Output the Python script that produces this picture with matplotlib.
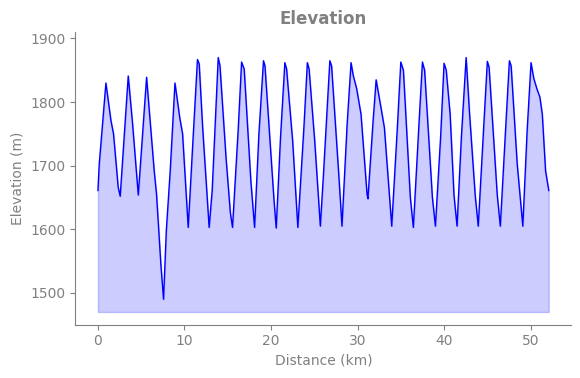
import matplotlib
matplotlib.use('Agg')
import matplotlib.pyplot as plt

# distance (km) and elevation (m)
distance = [0.0, 0.15, 0.92, 1.5, 1.8, 2.34, 2.57, 3.5, 4.0, 4.66, 5.62, 6.5, 6.77,
            7.27, 7.58, 7.9, 8.35, 8.9, 9.47, 9.78, 10.43, 11.0, 11.5, 11.7, 12.1,
            12.85, 13.2, 13.9, 14.1, 14.8, 15.3, 15.55, 16.2, 16.6, 16.9, 17.67,
            18.1, 18.6, 19.13, 19.3, 20.35, 20.6, 21.1, 21.6, 21.8, 22.5, 23.1,
            23.8, 24.2, 24.4, 25.05, 25.7, 26.05, 26.8, 27.0, 27.85, 28.2, 28.8,
            29.25, 29.5, 29.9, 30.4, 31.1, 31.2, 31.8, 32.15, 32.7, 33.1, 33.95,
            34.6, 35.0, 35.3, 36.1, 36.45, 37.1, 37.5, 37.75, 38.65, 39.0, 39.6,
            40.0, 40.25, 40.7, 41.15, 41.5, 42.0, 42.55, 42.95, 43.6, 43.95, 44.6,
            45.0, 45.2, 46.15, 46.5, 47.1, 47.55, 47.75, 48.45, 49.1, 49.6, 50.05,
            50.37, 50.75, 51.07, 51.35, 51.73, 52.1]
elevation = [1661, 1703, 1830, 1771, 1750, 1666, 1652, 1841, 1766, 1654, 1839, 1692, 1655,
             1545, 1490, 1598, 1692, 1830, 1774, 1750, 1603, 1745, 1867, 1860, 1760,
             1603, 1661, 1870, 1857, 1713, 1626, 1603, 1755, 1863, 1852, 1676,
             1603, 1750, 1865, 1857, 1645, 1602, 1745, 1862, 1852, 1739, 1603,
             1760, 1862, 1852, 1739, 1605, 1684, 1865, 1857, 1682, 1605, 1766,
             1862, 1842, 1821, 1781, 1655, 1648, 1771, 1835, 1792, 1760, 1605,
             1760, 1863, 1850, 1650, 1603, 1766, 1863, 1850, 1650, 1605, 1745,
             1861, 1850, 1781, 1653, 1605, 1745, 1870, 1781, 1653, 1605, 1766,
             1864, 1855, 1653, 1605, 1755, 1865, 1857, 1703, 1605, 1755, 1862,
             1837, 1820, 1808, 1781, 1692, 1661]

grey = '#808080'
lo = min(elevation)
hi = max(elevation)

fig, ax = plt.subplots(figsize=(5.8, 3.78), dpi=100)
ax.plot(distance, elevation, color='blue', linewidth=1)
ax.fill_between(distance, elevation, lo - 20, color='blue', alpha=0.2)
ax.set_ylim(lo - 40, hi + 40)

ax.set_title('Elevation', color=grey, fontweight='bold', fontsize=12)
ax.set_xlabel('Distance (km)', color=grey)
ax.set_ylabel('Elevation (m)', color=grey)
ax.tick_params(colors=grey)
for s in ['top', 'right']:
    ax.spines[s].set_visible(False)
for s in ['left', 'bottom']:
    ax.spines[s].set_color(grey)

fig.subplots_adjust(left=0.13, right=0.985, bottom=0.141, top=0.915)
plt.savefig('out.png')
